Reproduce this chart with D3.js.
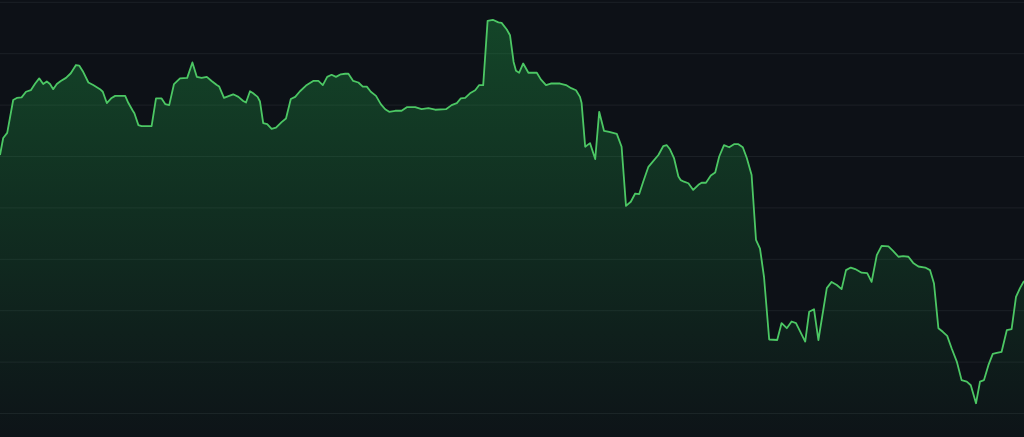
<!DOCTYPE html>
<html>
<head>
<meta charset="utf-8">
<script src="https://cdn.jsdelivr.net/npm/d3@7"></script>
<style>
  html, body { margin: 0; padding: 0; background: #0d1117; }
  svg { display: block; }
</style>
</head>
<body>
<svg id="chart" width="1024" height="437"></svg>
<script>
// Day index of each sample
const days = [0,0.8,1.8,3.3,4.2,5.4,6.5,7.7,8.8,9.8,10.8,11.7,12.5,13.3,14.2,15.2,16.5,17.7,19,19.8,20.7,22.1,23.3,25,25.7,26.7,27.9,28.8,31.3,32.1,33.2,33.6,34.6,35.4,37.9,39,40.4,41.3,42.3,43.5,45,46.8,48.1,49.2,50.4,51.7,52.9,54.2,54.8,56,57.3,58.3,59.6,60.8,61.5,62.5,63.3,64.4,65,65.8,66.8,67.9,69,70.4,71.5,72.7,73.8,75,76.5,78.3,79.6,80.7,81.8,82.9,84,85.2,86.3,87.1,88.3,89.6,90.7,91.7,92.7,94,95.2,96.3,97.3,98.8,100.4,101.7,103.8,105.4,107.1,108.8,111.5,112.9,114.2,115.2,116.3,117.5,118.8,119.8,120.8,121.9,123.2,124.6,125.4,126.7,127.5,128.4,129,129.8,130.8,132.1,134.2,135.2,136.5,137.7,140,141.5,142.8,144,145,145.4,146.3,147.5,148.8,149.8,151,152.3,154.2,155.4,156.5,157.7,158.8,159.8,160.8,162.1,163.2,164.6,165.8,166.7,167.5,168.5,169.6,170.2,171,172.1,173.3,174.6,175.4,176.5,177.7,178.8,179.8,181,182.3,183.5,184.6,185.7,186.7,187.9,189,190,191,192.3,194.3,195.4,196.7,197.9,199,201.3,202.3,203.5,204.6,206.7,207.9,209.2,210.4,211.5,212.7,213.8,215.4,216.8,217.9,219.2,220.4,222.1,223.2,224.6,225.8,227.1,228.3,229.6,231.3,232.5,233.5,234.6,235.7,236.8,237.9,239.2,240.4,241.7,242.7,244,245,246,247.1,248.2,249.2,250.4,251.7,252.9,254,255,256];

// Series values
const values = [150.2,153.5,154.5,160.9,161.3,161.4,162.5,162.8,164.1,165.1,164.0,164.5,164.0,163.0,164.0,164.6,165.2,166.1,167.7,167.6,166.5,164.3,163.8,163.0,162.5,160.3,161.3,161.7,161.7,160.3,158.8,158.3,156.0,155.8,155.8,161.2,161.2,160.1,159.9,164.0,165.1,165.2,168.2,165.4,165.2,165.4,164.6,163.8,163.5,161.3,161.7,162.0,161.5,160.7,160.4,162.6,162.2,161.5,160.6,156.4,156.2,155.3,155.5,156.6,157.3,161.1,161.5,162.6,163.7,164.6,164.6,163.8,165.4,165.8,165.4,165.9,166.0,166.0,164.6,164.3,163.5,163.5,162.5,161.7,160.1,159.1,158.6,158.8,158.8,159.5,159.5,159.1,159.3,159.0,159.1,159.9,160.3,161.2,161.3,162.2,162.8,163.8,163.8,176.3,176.5,176.0,175.9,174.6,173.5,168.3,166.6,166.2,168.0,166.2,166.2,164.9,163.8,164.1,164.1,163.8,163.2,162.8,161.5,160.3,151.8,152.5,149.4,158.6,154.9,154.7,154.3,151.8,140.3,141.1,142.7,142.6,145.0,147.9,148.9,150.2,151.9,152.1,151.3,149.6,146.0,145.3,145.0,144.7,143.4,144.4,144.8,144.8,146.2,146.8,149.9,152.1,151.7,152.3,152.3,151.7,149.6,146.3,133.7,132.0,126.5,114.3,114.2,117.5,116.5,117.8,117.5,113.9,119.7,120.2,114.2,124.3,125.5,124.9,124.1,127.8,128.3,128.0,127.3,127.2,125.5,130.7,132.5,132.4,131.6,130.4,130.5,130.4,129.2,128.5,128.3,127.8,125.2,116.5,115.8,115.0,112.6,110.0,106.4,106.1,105.4,101.9,106.1,106.4,109.3,111.5,111.7,111.9,116.1,116.3,122.6,124.3,125.7];

// Gridline tick values
const gridTicks = [100,110,120,130,140,150,160,170,180];

const W = 1024, H = 437;
const svg = d3.select("#chart");

const x = d3.scaleLinear().domain([0, 256]).range([0, W]);
const y = d3.scaleLinear().domain([95.33, 180.35]).range([H, 0]);

svg.append("rect").attr("width", W).attr("height", H).attr("fill", "#0d1117");

const defs = svg.append("defs");
const grad = defs.append("linearGradient")
  .attr("id", "fillGrad")
  .attr("gradientUnits", "userSpaceOnUse")
  .attr("x1", 0).attr("y1", y(176.5)).attr("x2", 0).attr("y2", H);
grad.append("stop").attr("offset", "0%").attr("stop-color", "#1f9a45").attr("stop-opacity", 0.38);
grad.append("stop").attr("offset", "100%").attr("stop-color", "#1f9a45").attr("stop-opacity", 0.02);

// gridlines
const gridAxis = d3.axisLeft(y).tickValues(gridTicks).tickSize(-W).tickFormat("");
const g = svg.append("g").attr("transform", "translate(0,0)").call(gridAxis);
g.select(".domain").remove();
g.selectAll(".tick line").attr("stroke", "#8b949e").attr("stroke-opacity", 0.12).attr("stroke-width", 1);

const data = days.map((d, i) => ({ t: d, v: values[i] }));

const area = d3.area()
  .x(d => x(d.t))
  .y0(H)
  .y1(d => y(d.v));

const line = d3.line()
  .x(d => x(d.t))
  .y(d => y(d.v));

svg.append("path").datum(data).attr("d", area).attr("fill", "url(#fillGrad)");
svg.append("path").datum(data).attr("d", line)
  .attr("fill", "none")
  .attr("stroke", "#4cc764")
  .attr("stroke-width", 1.8)
  .attr("stroke-linejoin", "round");
</script>
</body>
</html>
